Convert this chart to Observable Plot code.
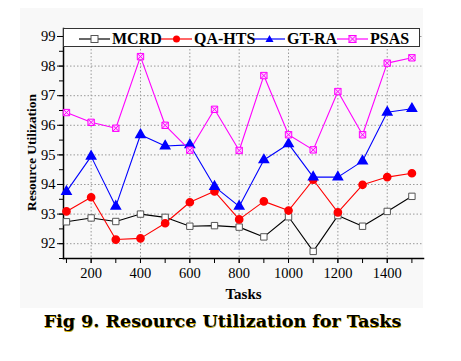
<!DOCTYPE html>
<html><head><meta charset="utf-8">
<script src="https://cdn.jsdelivr.net/npm/d3@7"></script>
<script src="https://cdn.jsdelivr.net/npm/@observablehq/plot@0.6"></script>
<style>
body{margin:0;background:#fff;width:461px;height:361px;overflow:hidden;font-family:'Liberation Serif','Times New Roman',serif;}
#wrap{position:relative;width:461px;height:310px;}
#bg{position:absolute;left:20px;top:8px;width:403px;height:300px;background:#f8f8f8;}
#chart{position:absolute;left:0;top:0;}
#chart svg text{font-family:'Liberation Serif','Times New Roman',serif;}
#legend{position:absolute;left:63px;top:28px;width:357px;height:19px;border:1px solid #333;background:#fff;box-sizing:border-box;}
#legend .it{position:absolute;top:0;height:19px;display:flex;align-items:center;font-weight:bold;font-size:16px;font-family:'Liberation Serif','Times New Roman',serif;color:#000;}
#caption{position:absolute;left:-8px;top:311px;width:461px;text-align:center;font-weight:bold;font-size:17.5px;font-family:'DejaVu Serif',serif;color:#000;text-shadow:0.6px 0.6px 0 #c8a800;}
</style></head>
<body>
<div id="wrap"><div id="bg"></div><div id="chart"></div><div id="legend"></div></div>
<div id="caption">Fig 9. Resource Utilization for Tasks</div>
<script>
const tasks = [100,200,300,400,500,600,700,800,900,1000,1100,1200,1300,1400,1500];
const mcrd  = [92.74,92.87,92.75,93.00,92.89,92.59,92.61,92.56,92.23,92.91,91.74,92.95,92.59,93.09,93.60];
const qahts = [93.09,93.57,92.14,92.18,92.69,93.40,93.77,92.82,93.43,93.12,94.16,93.06,93.99,94.25,94.38];
const gtra  = [93.76,94.95,93.26,95.68,95.30,95.34,93.93,93.26,94.83,95.37,94.25,94.25,94.79,96.44,96.56];
const psas  = [96.43,96.10,95.90,98.32,96.00,95.16,96.54,95.15,97.68,95.68,95.17,97.14,95.68,98.10,98.28];
const seriesNames = ["MCRD","QA-HTS","GT-RA","PSAS"];
const seriesValues = [mcrd,qahts,gtra,psas];
const colors = ["#000000","#ff0000","#0000ff","#ff00ff"];
const xTickLabels = [200,400,600,800,1000,1200,1400];
const yTickLabels = [92,93,94,95,96,97,98,99];

const crossSquare = {draw(ctx, size){const s=Math.sqrt(size)/2; ctx.moveTo(-s,-s);ctx.lineTo(s,-s);ctx.lineTo(s,s);ctx.lineTo(-s,s);ctx.closePath();ctx.moveTo(-s,-s);ctx.lineTo(s,s);ctx.moveTo(s,-s);ctx.lineTo(-s,s);}};

const rows = [];
seriesNames.forEach((n,i)=>tasks.forEach((t,j)=>rows.push({series:n,task:t,value:seriesValues[i][j]})));
const sel = n => rows.filter(r=>r.series===n);

const xMinor = d3.range(100,1501,100);
const yMinor = d3.range(91.5,99.01,0.5);

const plot = Plot.plot({
  width:461, height:310,
  marginLeft:63, marginTop:28, marginRight:38, marginBottom:52,
  style:{background:"transparent", fontSize:"14px", color:"#000", overflow:"visible"},
  x:{domain:[88,1547]},
  y:{domain:[91.5,99.27]},
  marks:[
    Plot.gridX(xTickLabels,{stroke:"#999",strokeOpacity:1,strokeDasharray:"1.5,2"}),
    Plot.gridY(yTickLabels,{stroke:"#999",strokeOpacity:1,strokeDasharray:"1.5,2"}),
    Plot.axisY(yMinor,{text:null,tickSize:4,label:null,stroke:"#000"}),
    Plot.axisY(yTickLabels,{tickSize:6,tickPadding:2,tickFormat:d=>String(d),label:"Resource Utilization",labelAnchor:"center",labelArrow:"none",labelOffset:37,fontSize:14.5,stroke:"#000"}),
    Plot.axisX(xMinor,{text:null,tickSize:5,label:null,stroke:"#000"}),
    Plot.axisX(xTickLabels,{tickSize:5,tickPadding:4,tickFormat:d=>String(d),label:"Tasks",labelAnchor:"center",labelArrow:"none",labelOffset:40,fontSize:14.5,stroke:"#000"}),
    Plot.frame({anchor:"left",stroke:"#000",strokeWidth:1.5}),
    Plot.frame({anchor:"bottom",stroke:"#000",strokeWidth:1.5}),
    Plot.line(sel("MCRD"),{x:"task",y:"value",stroke:colors[0],strokeWidth:1.1}),
    Plot.line(sel("QA-HTS"),{x:"task",y:"value",stroke:colors[1],strokeWidth:1.1}),
    Plot.line(sel("GT-RA"),{x:"task",y:"value",stroke:colors[2],strokeWidth:1.1}),
    Plot.line(sel("PSAS"),{x:"task",y:"value",stroke:colors[3],strokeWidth:1.1}),
    Plot.dot(sel("MCRD"),{x:"task",y:"value",symbol:"square",r:3.6,fill:"#fff",stroke:"#555",strokeWidth:1}),
    Plot.dot(sel("QA-HTS"),{x:"task",y:"value",symbol:"circle",r:3.6,fill:colors[1],stroke:colors[1]}),
    Plot.dot(sel("GT-RA"),{x:"task",y:"value",symbol:"triangle",r:3.4,fill:colors[2],stroke:colors[2]}),
    Plot.dot(sel("PSAS"),{x:"task",y:"value",symbol:crossSquare,r:3.6,fill:"#fbd0fb",stroke:colors[3],strokeWidth:1})
  ]
});
plot.querySelectorAll('g[aria-label="x-axis label"]').forEach(e=>{e.setAttribute("font-weight","bold");e.setAttribute("font-size","15");});
plot.querySelectorAll('g[aria-label="y-axis label"]').forEach(e=>{e.setAttribute("font-weight","bold");e.setAttribute("font-size","13.5");e.setAttribute("transform",((e.getAttribute("transform")||"")+" translate(0,9)").trim());});
document.getElementById("chart").appendChild(plot);

// legend
const legendPos = [15,97,190,273];
const legend = document.getElementById("legend");
const markerSvg = i => {
  const c = colors[i];
  let m;
  if(i===0) m=`<rect x="12" y="5.5" width="7" height="7" fill="#fff" stroke="#555"/>`;
  else if(i===1) m=`<circle cx="15.5" cy="9" r="3.5" fill="${c}"/>`;
  else if(i===2) m=`<path d="M15.5,5L19.5,12L11.5,12Z" fill="${c}"/>`;
  else m=`<rect x="12" y="5.5" width="7" height="7" fill="#fbd0fb" stroke="${c}"/><path d="M12,5.5L19,12.5M19,5.5L12,12.5" stroke="${c}"/>`;
  return `<svg width="31" height="18" style="display:block"><line x1="0" y1="9" x2="31" y2="9" stroke="${c}" stroke-width="1.2"/>${m}</svg>`;
};
seriesNames.forEach((n,i)=>{
  const d=document.createElement("div");d.className="it";d.style.left=legendPos[i]+"px";
  d.innerHTML=markerSvg(i)+`<span style="margin-left:2px">${n}</span>`;
  legend.appendChild(d);
});
</script>
</body></html>
